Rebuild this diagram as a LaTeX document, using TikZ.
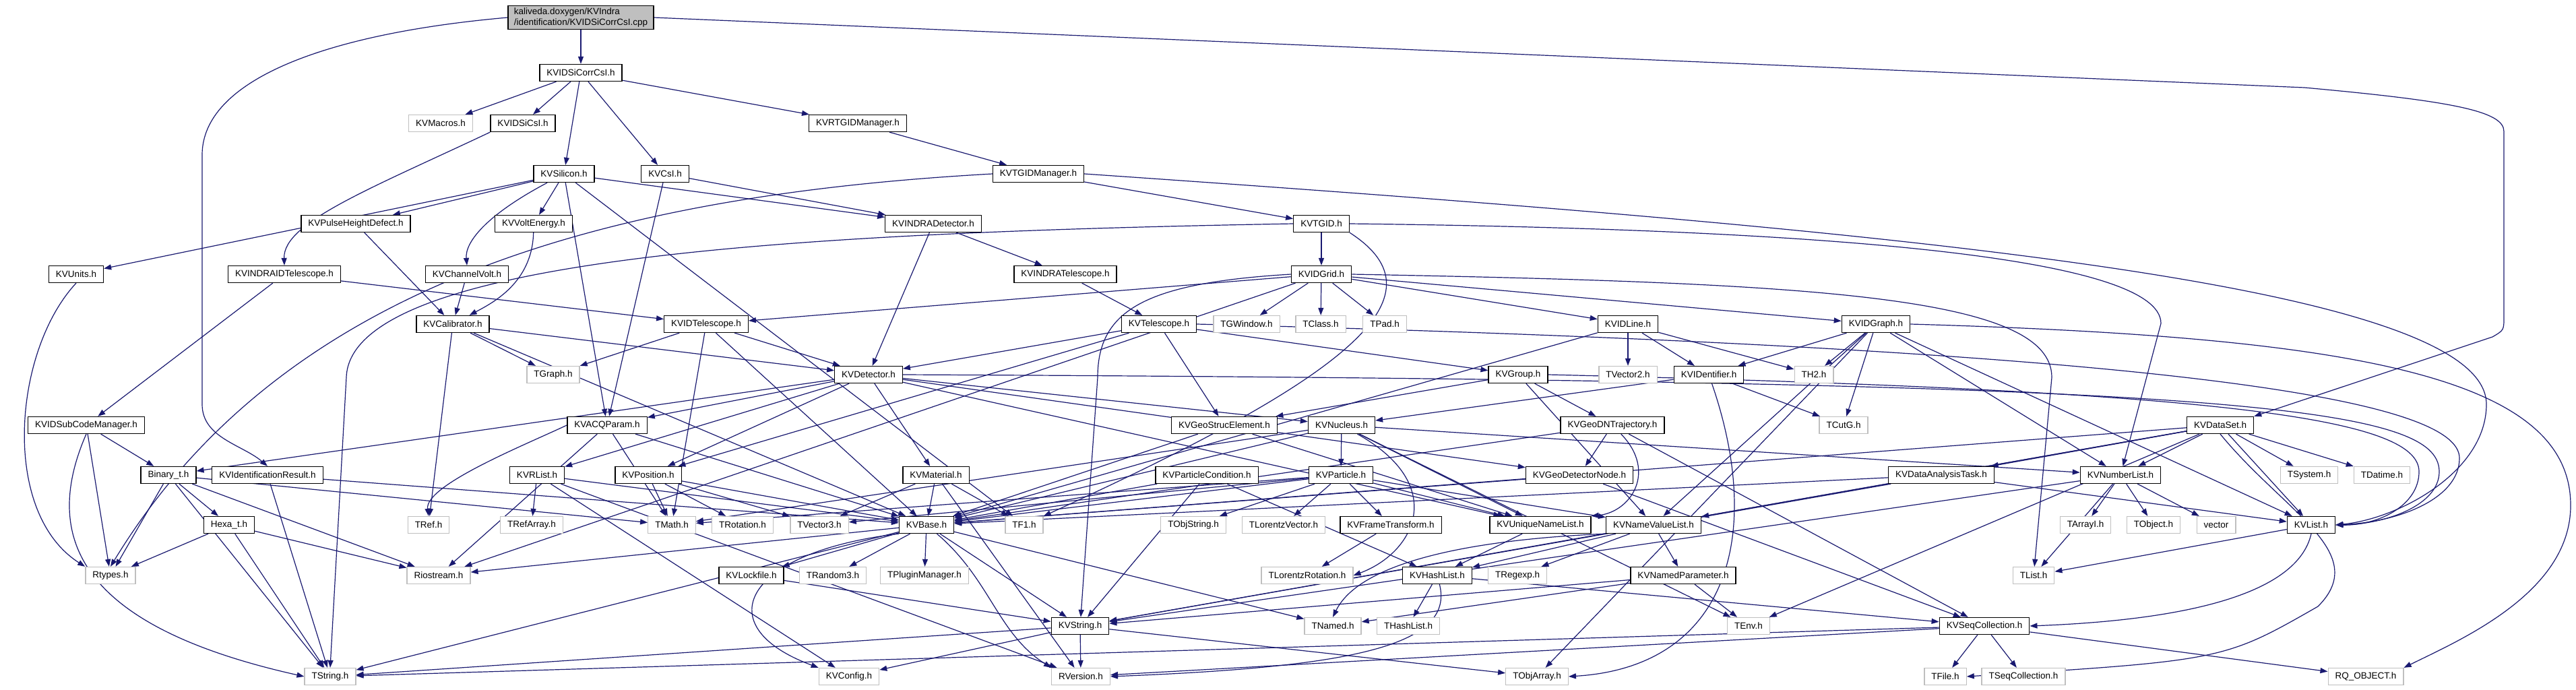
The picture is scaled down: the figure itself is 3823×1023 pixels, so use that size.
\documentclass[tikz,border=0pt]{standalone}
\usepackage{fontspec}
\setmainfont{Liberation Sans}
\usepackage{xcolor}
\usepackage{tikz}
\usetikzlibrary{arrows.meta, positioning, backgrounds}
\definecolor{edgeblue}{HTML}{191970}
\definecolor{extgray}{HTML}{BFBFBF}

\begin{document}
\begin{tikzpicture}[x=1pt, y=-1pt,
    hfile/.style={draw=black, fill=white, line width=1.3pt, minimum height=25pt,
        inner xsep=10.5pt, inner ysep=3pt, font=\fontsize{13.5}{16}\selectfont},
    extfile/.style={hfile, draw=extgray},
    srcfile/.style={hfile, fill=extgray, align=left, inner xsep=9pt},
    inc/.style={-{Triangle[length=11pt,width=8pt]}, line width=1.2pt, edgeblue},
]
\useasboundingbox (0,0) rectangle (3823,1023);
% ranks, top to bottom
\node[srcfile] (cpp) at (862,26) {kaliveda.doxygen/KVIndra\\/identification/KVIDSiCorrCsI.cpp};
\node[hfile] (sicorr) at (862,108) {KVIDSiCorrCsI.h};
\node[extfile] (macros) at (654,183) {KVMacros.h};
\node[hfile] (sicsi) at (776,183) {KVIDSiCsI.h};
\node[hfile] (rtgid) at (1273,183) {KVRTGIDManager.h};
\node[hfile] (silicon) at (837,258) {KVSilicon.h};
\node[hfile] (csi) at (987,258) {KVCsI.h};
\node[hfile] (tgidman) at (1541,258) {KVTGIDManager.h};
\node[hfile] (phd) at (528,332) {KVPulseHeightDefect.h};
\node[hfile] (volten) at (792,332) {KVVoltEnergy.h};
\node[hfile] (indradet) at (1385,332) {KVINDRADetector.h};
\node[hfile] (tgid) at (1961,332) {KVTGID.h};
\node[hfile] (units) at (113,407) {KVUnits.h};
\node[hfile] (indraidt) at (422,407) {KVINDRAIDTelescope.h};
\node[hfile] (chvolt) at (693,407) {KVChannelVolt.h};
\node[hfile] (indratel) at (1581,407) {KVINDRATelescope.h};
\node[hfile] (idgrid) at (1961,407) {KVIDGrid.h};
\node[hfile] (calib) at (672,481) {KVCalibrator.h};
\node[hfile] (idtel) at (1048,481) {KVIDTelescope.h};
\node[hfile] (telescope) at (1720,481) {KVTelescope.h};
\node[extfile] (tgwindow) at (1850,481) {TGWindow.h};
\node[extfile] (tclass) at (1960,481) {TClass.h};
\node[extfile] (tpad) at (2055,481) {TPad.h};
\node[hfile] (idline) at (2416,481) {KVIDLine.h};
\node[hfile] (idgraph) at (2784,481) {KVIDGraph.h};
\node[extfile] (tgraph) at (821,556) {TGraph.h};
\node[hfile] (detector) at (1289,556) {KVDetector.h};
\node[hfile] (group) at (2253,556) {KVGroup.h};
\node[extfile] (tvector2) at (2416,556) {TVector2.h};
\node[hfile] (identifier) at (2536,556) {KVIDentifier.h};
\node[extfile] (th2) at (2692,556) {TH2.h};
\node[hfile] (subcode) at (128,631) {KVIDSubCodeManager.h};
\node[hfile] (acq) at (901,631) {KVACQParam.h};
\node[hfile] (geostruc) at (1817,631) {KVGeoStrucElement.h};
\node[hfile] (nucleus) at (1991,631) {KVNucleus.h};
\node[hfile] (dntraj) at (2393,631) {KVGeoDNTrajectory.h};
\node[extfile] (tcutg) at (2736,631) {TCutG.h};
\node[hfile] (dataset) at (3295,631) {KVDataSet.h};
\node[hfile] (binary) at (250,705) {Binary\_t.h};
\node[hfile] (idresult) at (397,705) {KVIdentificationResult.h};
\node[hfile] (rlist) at (797,705) {KVRList.h};
\node[hfile] (position) at (962,705) {KVPosition.h};
\node[hfile] (material) at (1389,705) {KVMaterial.h};
\node[hfile] (partcond) at (1791,705) {KVParticleCondition.h};
\node[hfile] (particle) at (1990,705) {KVParticle.h};
\node[hfile] (detnode) at (2344,705) {KVGeoDetectorNode.h};
\node[hfile] (dat) at (2881,705) {KVDataAnalysisTask.h};
\node[hfile] (numlist) at (3147,705) {KVNumberList.h};
\node[extfile] (tsystem) at (3427,705) {TSystem.h};
\node[extfile] (tdatime) at (3535,705) {TDatime.h};
\node[hfile] (hexa) at (340,779) {Hexa\_t.h};
\node[extfile] (tref) at (636,779) {TRef.h};
\node[extfile] (trefarray) at (789,779) {TRefArray.h};
\node[extfile] (tmath) at (997,779) {TMath.h};
\node[extfile] (trotation) at (1102,779) {TRotation.h};
\node[extfile] (tvector3) at (1216,779) {TVector3.h};
\node[hfile] (base) at (1375,779) {KVBase.h};
\node[extfile] (tf1) at (1520,779) {TF1.h};
\node[extfile] (tobjstring) at (1771,779) {TObjString.h};
\node[extfile] (tlvector) at (1905,779) {TLorentzVector.h};
\node[hfile] (frame) at (2064,779) {KVFrameTransform.h};
\node[hfile] (uniq) at (2286,779) {KVUniqueNameList.h};
\node[hfile] (nvl) at (2454,779) {KVNameValueList.h};
\node[extfile] (tarrayi) at (3095,779) {TArrayI.h};
\node[extfile] (tobject) at (3196,779) {TObject.h};
\node[extfile] (vector) at (3289,779) {vector};
\node[hfile] (kvlist) at (3430,779) {KVList.h};
\node[extfile] (rtypes) at (164,854) {Rtypes.h};
\node[extfile] (riostream) at (651,854) {Riostream.h};
\node[hfile] (lockfile) at (1115,854) {KVLockfile.h};
\node[extfile] (trandom) at (1236,854) {TRandom3.h};
\node[extfile] (tplugin) at (1372,854) {TPluginManager.h};
\node[extfile] (tlrot) at (1940,854) {TLorentzRotation.h};
\node[hfile] (hashlist) at (2133,854) {KVHashList.h};
\node[extfile] (tregexp) at (2252,854) {TRegexp.h};
\node[hfile] (namedpar) at (2498,854) {KVNamedParameter.h};
\node[extfile] (tlist) at (3018,854) {TList.h};
\node[hfile] (kvstring) at (1603,929) {KVString.h};
\node[extfile] (tnamed) at (1978,929) {TNamed.h};
\node[extfile] (thashlist) at (2090,929) {THashList.h};
\node[extfile] (tenv) at (2595,929) {TEnv.h};
\node[hfile] (seqcoll) at (2945,929) {KVSeqCollection.h};
\node[extfile] (tstring) at (490,1004) {TString.h};
\node[extfile] (kvconfig) at (1260,1004) {KVConfig.h};
\node[extfile] (rversion) at (1604,1004) {RVersion.h};
\node[extfile] (tobjarray) at (2281,1004) {TObjArray.h};
\node[extfile] (tfile) at (2887,1004) {TFile.h};
\node[extfile] (tseqcoll) at (3003,1004) {TSeqCollection.h};
\node[extfile] (rqobject) at (3511,1004) {RQ\_OBJECT.h};

\begin{scope}[on background layer]
\fill[white] (0,0) rectangle (3823,1023);
% includes of the source file
\draw[inc] (cpp) -- (sicorr);
\draw[inc] (cpp.west) .. controls (480,50) and (300,120) .. (300,230) -- (300,600) .. controls (300,650) and (360,660) .. (idresult.north);
\draw[inc] (cpp.east) -- (3420,130) .. controls (3640,150) and (3716,165) .. (3716,195) -- (3716,470) .. controls (3716,490) .. (3699,500) -- (dataset.north east);
% upper part
\draw[inc] (sicorr) -- (macros); \draw[inc] (sicorr) -- (sicsi); \draw[inc] (sicorr) -- (silicon);
\draw[inc] (sicorr) -- (csi); \draw[inc] (sicorr) -- (rtgid);
\draw[inc] (sicsi.south west) .. controls (550,280) and (420,330) .. (indraidt.north);
\draw[inc] (rtgid) -- (tgidman);
\draw[inc] (silicon) -- (units); \draw[inc] (silicon) -- (phd); \draw[inc] (silicon) -- (volten);
\draw[inc] (silicon) .. controls (720,320) and (690,360) .. (chvolt.north); \draw[inc] (silicon) -- (acq); \draw[inc] (silicon) -- (indradet);
\draw[inc] (silicon) -- (tf1);
\draw[inc] (csi) -- (indradet); \draw[inc] (csi) -- (acq);
\draw[inc] (tgidman) -- (tgid);
\draw[inc] (tgidman.west) .. controls (900,290) and (420,420) .. (rtypes.north);
\draw[inc] (tgidman.east) .. controls (2800,340) and (3690,420) .. (3690,600) .. controls (3690,700) and (3560,770) .. (kvlist.east);
\draw[inc] (phd) -- (calib); \draw[inc] (volten) .. controls (790,420) and (730,450) .. (calib); \draw[inc] (chvolt) -- (calib);
\draw[inc] (indradet) -- (detector); \draw[inc] (indradet) -- (indratel);
\draw[inc] (tgid) -- (idgrid);
\draw[inc] (tgid.south east) .. controls (2150,440) and (2000,560) .. (tf1);
\draw[inc] (tgid.west) .. controls (1200,345) and (520,380) .. (514,560) -- (tstring.north);
\draw[inc] (tgid.east) .. controls (2700,340) and (3207,380) .. (3207,480) -- (numlist);
\draw[inc] (units.south) .. controls (20,520) and (0,760) .. (rtypes.north west);
\draw[inc] (indraidt) -- (idtel); \draw[inc] (indraidt) -- (subcode);
\draw[inc] (indratel) -- (telescope);
\draw[inc] (idgrid) -- (tgwindow); \draw[inc] (idgrid) -- (tclass); \draw[inc] (idgrid) -- (tpad);
\draw[inc] (idgrid) -- (idline); \draw[inc] (idgrid) -- (idgraph); \draw[inc] (idgrid) -- (idtel);
\draw[inc] (idgrid.west) .. controls (1700,420) and (1629,460) .. (1629,560) -- (kvstring);
\draw[inc] (idgrid) -- (riostream);
\draw[inc] (idgrid.east) .. controls (2700,420) and (3045,440) .. (3045,560) -- (tlist);
\draw[inc] (calib) -- (tgraph); \draw[inc] (calib) -- (tref); \draw[inc] (calib) -- (base);
\draw[inc] (calib) -- (detector);
\draw[inc] (idtel) -- (tgraph); \draw[inc] (idtel) -- (detector); \draw[inc] (idtel) -- (base);
\draw[inc] (idtel) -- (tmath);
\draw[inc] (telescope) -- (detector); \draw[inc] (telescope) -- (geostruc);
\draw[inc] (telescope) -- (position); \draw[inc] (telescope) -- (group);
\draw[inc] (telescope.east) .. controls (3300,520) and (3650,600) .. (3650,680) .. controls (3650,740) and (3560,775) .. (kvlist.east);
\draw[inc] (idline) -- (tvector2); \draw[inc] (idline) -- (identifier); \draw[inc] (idline) -- (th2);
\draw[inc] (idline) -- (base);
\draw[inc] (idgraph) -- (identifier); \draw[inc] (idgraph) -- (th2); \draw[inc] (idgraph) -- (tcutg);
\draw[inc] (idgraph) -- (numlist); \draw[inc] (idgraph) -- (kvlist); \draw[inc] (idgraph) -- (nvl);
\draw[inc] (idgraph) -- (tobjarray);
\draw[inc] (idgraph.east) .. controls (3500,500) and (3815,560) .. (3815,750) .. controls (3815,880) and (3650,950) .. (rqobject.north east);
% middle part
\draw[inc] (detector) -- (acq); \draw[inc] (detector) -- (binary); \draw[inc] (detector) -- (position);
\draw[inc] (detector) -- (rlist); \draw[inc] (detector) -- (material); \draw[inc] (detector) -- (nucleus);
\draw[inc] (detector) -- (detnode); \draw[inc] (detector) -- (uniq);
\draw[inc] (detector.east) .. controls (3300,565) and (3620,600) .. (3620,700) .. controls (3620,750) and (3540,778) .. (kvlist.east);
\draw[inc] (group) -- (geostruc); \draw[inc] (group) -- (dntraj); \draw[inc] (group) -- (nvl);
\draw[inc] (group.east) .. controls (3300,580) and (3590,620) .. (3590,700) .. controls (3590,750) and (3530,780) .. (kvlist.east);
\draw[inc] (identifier) -- (nucleus); \draw[inc] (identifier) -- (tcutg);
\draw[inc] (identifier) .. controls (2620,800) and (2560,990) .. (tobjarray.east);
\draw[inc] (subcode) -- (rtypes); \draw[inc] (subcode) -- (binary);
\draw[inc] (subcode.south) .. controls (60,800) and (120,930) .. (tstring.west);
\draw[inc] (acq.west) .. controls (780,660) and (630,720) .. (tref.north); \draw[inc] (acq) -- (riostream); \draw[inc] (acq) -- (base);
\draw[inc] (acq) -- (tmath);
\draw[inc] (geostruc) -- (base); \draw[inc] (geostruc) -- (uniq);
\draw[inc] (nucleus) -- (particle); \draw[inc] (nucleus) .. controls (2150,720) and (2100,820) .. (tlrot.east); \draw[inc] (nucleus) -- (uniq);
\draw[inc] (nucleus) -- (tenv); \draw[inc] (nucleus) -- (numlist); \draw[inc] (nucleus) -- (tmath);
\draw[inc] (nucleus) -- (base);
\draw[inc] (dntraj) -- (detnode); \draw[inc] (dntraj) .. controls (2460,700) and (2420,760) .. (uniq.north east); \draw[inc] (dntraj) -- (seqcoll);
\draw[inc] (dntraj) -- (base);
\draw[inc] (dataset) -- (dat); \draw[inc] (dataset) -- (numlist); \draw[inc] (dataset) -- (tsystem);
\draw[inc] (dataset) -- (tdatime); \draw[inc] (dataset) -- (kvlist); \draw[inc] (dataset) -- (kvstring);
\draw[inc] (dataset.south) .. controls (3390,760) and (3520,820) .. (3440,900) .. controls (3300,980) .. (tfile.east);
\draw[inc] (dataset) -- (nvl); \draw[inc] (dataset) -- (tenv);
\draw[inc] (dataset) -- (base);
\draw[inc] (binary) -- (rtypes); \draw[inc] (binary) -- (tstring); \draw[inc] (binary) -- (hexa);
\draw[inc] (binary) -- (riostream); \draw[inc] (binary) -- (tmath);
\draw[inc] (idresult) -- (tstring); \draw[inc] (idresult) -- (base);
\draw[inc] (rlist) -- (trefarray); \draw[inc] (rlist) -- (base); \draw[inc] (rlist) -- (kvconfig);
\draw[inc] (rlist) -- (rversion);
\draw[inc] (position) -- (tmath); \draw[inc] (position) -- (trotation); \draw[inc] (position) -- (tvector3);
\draw[inc] (position) -- (base);
\draw[inc] (material) -- (base); \draw[inc] (material) -- (tvector3); \draw[inc] (material) -- (tf1);
\draw[inc] (material) -- (rversion);
\draw[inc] (partcond) -- (base); \draw[inc] (partcond) -- (kvstring); \draw[inc] (partcond) -- (hashlist);
\draw[inc] (particle) -- (tlvector); \draw[inc] (particle) -- (frame); \draw[inc] (particle) -- (uniq);
\draw[inc] (particle) -- (nvl); \draw[inc] (particle) -- (tobjstring); \draw[inc] (particle) -- (base);
\draw[inc] (particle) -- (tvector3); \draw[inc] (particle) -- (tmath);
\draw[inc] (detnode) -- (base); \draw[inc] (detnode) -- (seqcoll);
\draw[inc] (dat) -- (base); \draw[inc] (dat) -- (kvlist); \draw[inc] (dat) -- (kvstring);
\draw[inc] (numlist) -- (tarrayi); \draw[inc] (numlist) -- (tobject); \draw[inc] (numlist) -- (vector);
\draw[inc] (numlist) -- (tlist); \draw[inc] (numlist) -- (kvstring);
% lower part
\draw[inc] (hexa) -- (rtypes); \draw[inc] (hexa) -- (tstring); \draw[inc] (hexa) -- (riostream);
\draw[inc] (frame) -- (tlrot);
\draw[inc] (uniq) -- (hashlist);
\draw[inc] (nvl) -- (hashlist); \draw[inc] (nvl) -- (tregexp); \draw[inc] (nvl) -- (namedpar);
\draw[inc] (nvl.south west) .. controls (2200,800) and (2020,830) .. (tnamed.north);
\draw[inc] (kvlist) -- (tlist);
\draw[inc] (kvlist.south) .. controls (3410,880) and (3250,920) .. (seqcoll.east);
\draw[inc] (base) -- (tnamed); \draw[inc] (base) .. controls (1470,860) and (1480,940) .. (rversion.north west);
\draw[inc] (base.south west) .. controls (1100,820) and (1050,930) .. (kvconfig.north west);
\draw[inc] (base) -- (lockfile); \draw[inc] (base) -- (trandom); \draw[inc] (base) -- (tplugin);
\draw[inc] (base) -- (riostream); \draw[inc] (base) -- (kvstring); \draw[inc] (base) -- (tstring);
\draw[inc] (lockfile) -- (kvstring);
\draw[inc] (hashlist) -- (thashlist); \draw[inc] (hashlist) -- (seqcoll);
\draw[inc] (hashlist) .. controls (2160,960) and (2000,990) .. (rversion.east);
\draw[inc] (namedpar) -- (tenv); \draw[inc] (namedpar) -- (tnamed); \draw[inc] (namedpar) -- (kvstring);
\draw[inc] (kvstring) -- (tstring); \draw[inc] (kvstring) -- (kvconfig); \draw[inc] (kvstring) -- (rversion);
\draw[inc] (kvstring) -- (tobjarray);
\draw[inc] (seqcoll) -- (tseqcoll); \draw[inc] (seqcoll) -- (tfile); \draw[inc] (seqcoll) -- (rqobject);
\draw[inc] (seqcoll) -- (tstring); \draw[inc] (seqcoll) -- (rversion);
\end{scope}
\end{tikzpicture}
\end{document}
